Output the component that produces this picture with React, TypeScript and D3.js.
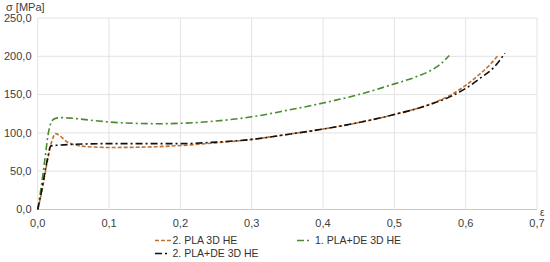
import React from "react";
import * as d3 from "d3";

const xTicks = [0, 0.1, 0.2, 0.3, 0.4, 0.5, 0.6, 0.7];
const yTicks = [0, 50, 100, 150, 200, 250];

const plaStrain = [0, 0.005, 0.01, 0.015, 0.02, 0.025, 0.03, 0.04, 0.05, 0.07, 0.1, 0.15, 0.2, 0.25, 0.3, 0.35, 0.4, 0.45, 0.5, 0.55, 0.58, 0.6, 0.62, 0.635, 0.646];
const plaStress = [0, 20, 45, 70, 90, 99, 97, 89, 85, 82, 81, 81.5, 83.5, 87, 91.5, 98, 105, 113.5, 124, 137.5, 150, 162, 177, 190, 202];

const plaDe1Strain = [0, 0.005, 0.01, 0.015, 0.02, 0.025, 0.035, 0.05, 0.08, 0.12, 0.17, 0.2, 0.25, 0.3, 0.35, 0.4, 0.45, 0.5, 0.53, 0.55, 0.565, 0.577];
const plaDe1Stress = [0, 30, 65, 100, 116, 119, 120, 119, 116, 113, 112, 112.5, 115.5, 121, 129.5, 139, 150, 164, 173, 181, 190, 201];

const plaDe2Strain = [0, 0.005, 0.01, 0.015, 0.018, 0.03, 0.05, 0.1, 0.15, 0.2, 0.25, 0.3, 0.35, 0.4, 0.45, 0.5, 0.55, 0.58, 0.6, 0.62, 0.64, 0.655];
const plaDe2Stress = [0, 22, 48, 72, 83, 84, 85, 86, 86, 86, 88, 91.5, 98, 105, 113.5, 124, 137, 148, 158, 171, 186, 204];

const series = [
  { name: "2. PLA 3D HE", xs: plaStrain, ys: plaStress, color: "#c0702e", dash: "4,2" },
  { name: "1. PLA+DE 3D HE", xs: plaDe1Strain, ys: plaDe1Stress, color: "#4a8a2e", dash: "7,3,2,3" },
  { name: "2. PLA+DE 3D HE", xs: plaDe2Strain, ys: plaDe2Stress, color: "#111111", dash: "7,3,2,3" },
];

const fmt = (v: number, d: number) => v.toFixed(d).replace(".", ",");

export default function App() {
  const x = d3.scaleLinear().domain([0, 0.7]).range([37.7, 537]);
  const y = d3.scaleLinear().domain([0, 250]).range([209.5, 18]);
  const line = d3
    .line<[number, number]>()
    .x((d) => x(d[0]))
    .y((d) => y(d[1]))
    .curve(d3.curveMonotoneX);
  const font = "Liberation Sans, Arial, sans-serif";
  const legend = [
    { s: series[0], lx: 155, ly: 240.5, len: 16, tx: 172.5 },
    { s: series[1], lx: 297, ly: 240.5, len: 12, tx: 315 },
    { s: series[2], lx: 155, ly: 253.5, len: 12, tx: 172.5 },
  ];
  return (
    <svg
      width={550}
      height={262}
      style={{ position: "absolute", left: 0, top: 0, background: "#fff" }}
      fontFamily={font}
    >
      {yTicks.map((t) => (
        <line key={"gy" + t} x1={x(0)} x2={x(0.7)} y1={y(t)} y2={y(t)} stroke={t === 0 ? "#c8c8c8" : "#e3e3e3"} strokeWidth={1} />
      ))}
      {xTicks.map((t) => (
        <line key={"gx" + t} x1={x(t)} x2={x(t)} y1={y(0)} y2={y(250)} stroke="#e3e3e3" strokeWidth={1} />
      ))}
      {yTicks.map((t) => (
        <text key={"ly" + t} x={31.5} y={y(t)} dy="0.35em" textAnchor="end" fontSize={11} fill="#404040">
          {fmt(t, 1)}
        </text>
      ))}
      {xTicks.map((t) => (
        <text key={"lx" + t} x={x(t)} y={223} dy="0.35em" textAnchor="middle" fontSize={11} fill="#404040">
          {fmt(t, 1)}
        </text>
      ))}
      <text x={6} y={7.5} dy="0.35em" fontSize={11} fill="#404040">σ [MPa]</text>
      <text x={540} y={212} dy="0.35em" fontSize={10} fill="#404040">ε</text>
      {series.map((s) => (
        <path
          key={s.name}
          d={line(s.xs.map((v, i) => [v, s.ys[i]] as [number, number])) || ""}
          fill="none"
          stroke={s.color}
          strokeWidth={1.6}
          strokeDasharray={s.dash}
        />
      ))}
      {legend.map(({ s, lx, ly, len, tx }) => (
        <g key={"lg" + s.name}>
          <line x1={lx} x2={lx + len} y1={ly} y2={ly} stroke={s.color} strokeWidth={1.6} strokeDasharray={s.dash} />
          <text x={tx} y={ly} dy="0.35em" fontSize={10.5} fill="#333">
            {s.name}
          </text>
        </g>
      ))}
    </svg>
  );
}
